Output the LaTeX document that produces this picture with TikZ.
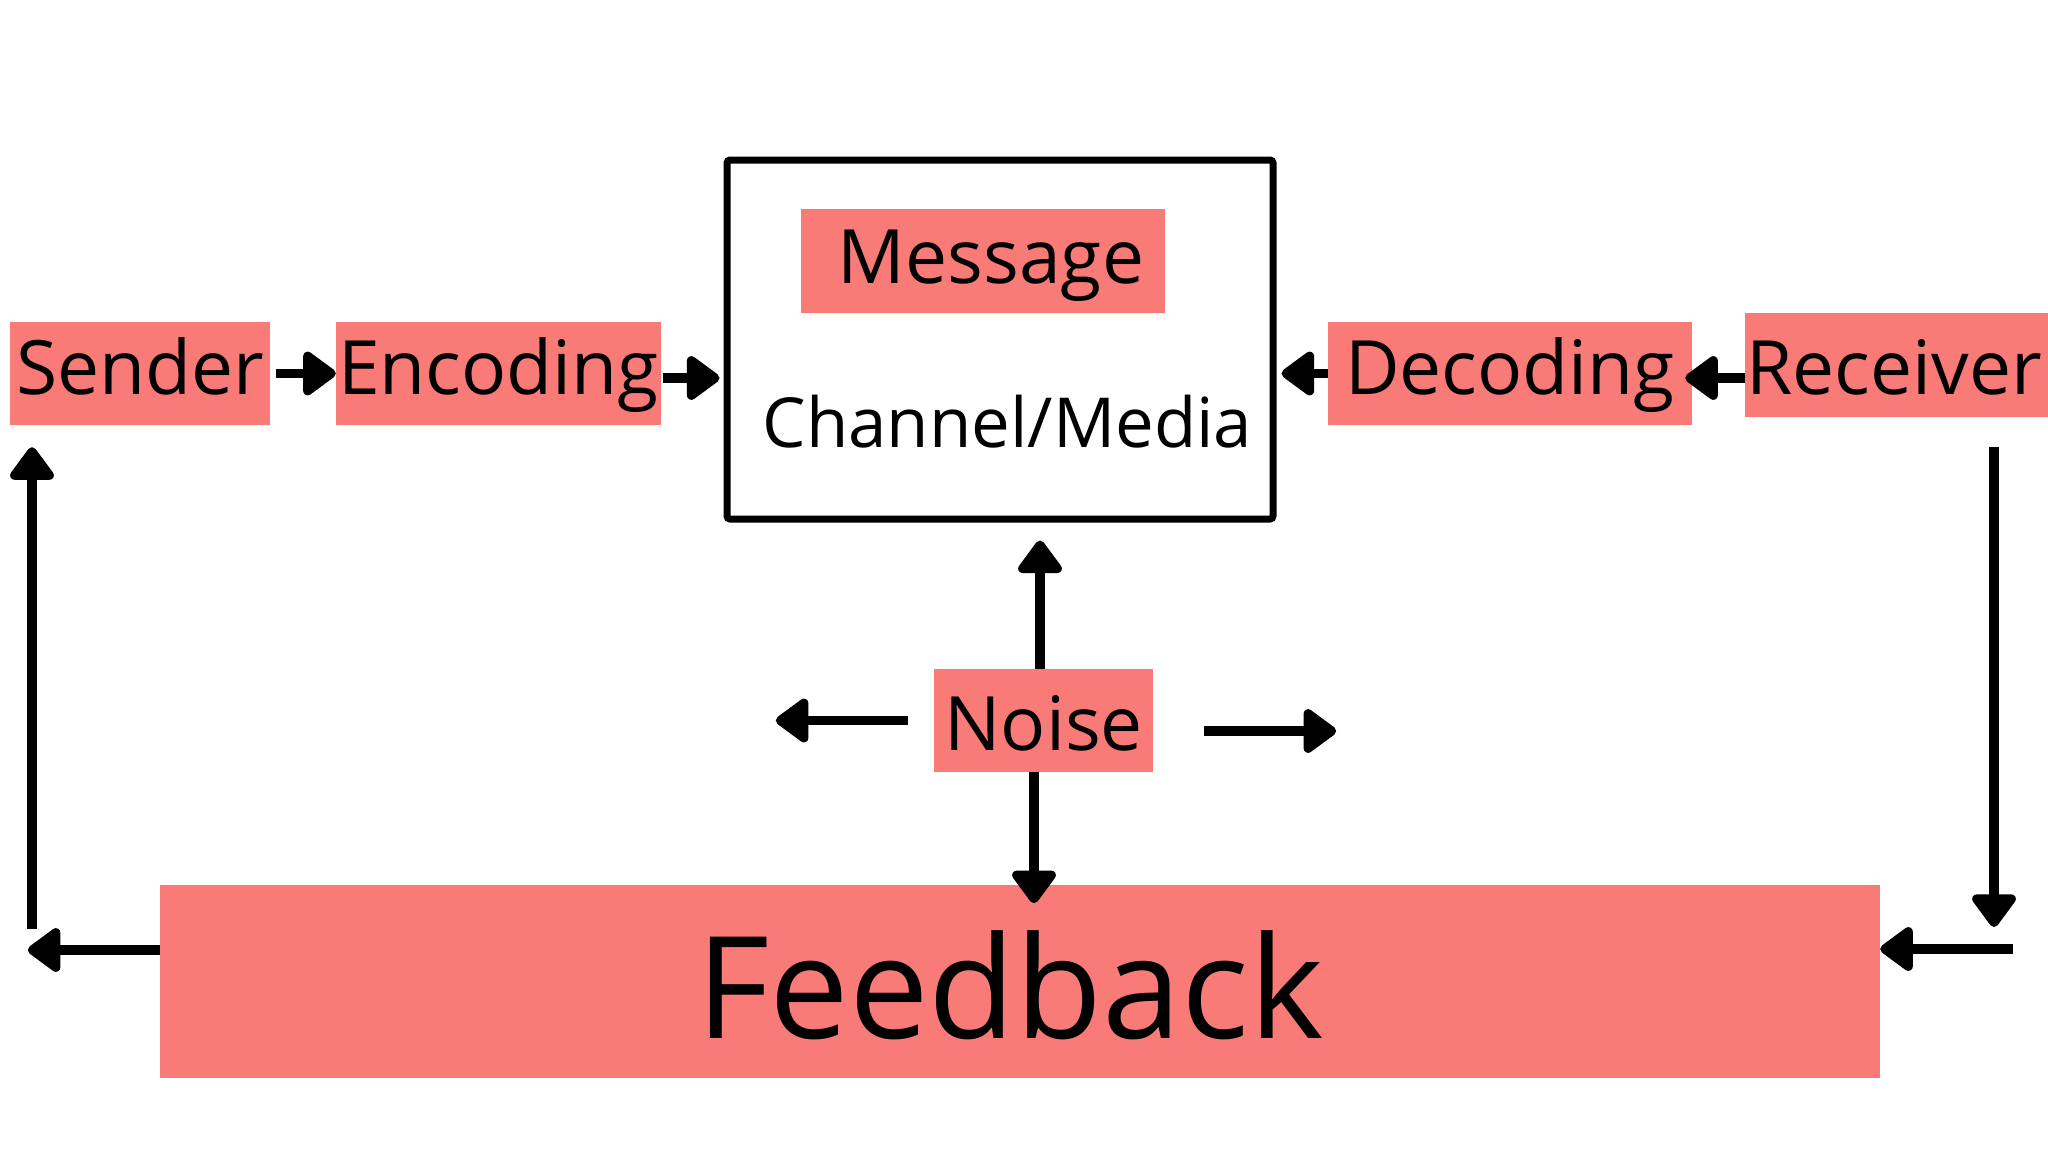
\documentclass[tikz,border=0pt]{standalone}
\usepackage{fontspec}
\setmainfont{Open Sans}
\usetikzlibrary{arrows.meta}
\definecolor{salmon}{RGB}{249,123,120}
\begin{document}
\begin{tikzpicture}[x=1pt,y=-1pt,
  lbl/.style={fill=salmon, inner sep=0pt, font=\fontsize{75}{90}\selectfont},
  arr/.style={line width=9.5pt, -{Triangle[length=36pt,width=50pt,line join=round,line cap=round,fill=black]}},
  chan/.style={draw, line width=7pt, rounded corners=3pt, inner sep=0pt}]
\useasboundingbox (0,0) rectangle (2048,1152);
\fill[white] (0,0) rectangle (2048,1152);
% boxes
\node[lbl, minimum width=260pt, minimum height=103pt, text height=72pt, text depth=31pt] (sender) at (140,373.5) {Sender};
\node[lbl, minimum width=325pt, minimum height=103pt, text height=72pt, text depth=31pt] (encoding) at (498.5,373.5) {Encoding};
\node[chan, minimum width=546pt, minimum height=359pt] (channel) at (1000,339.5) {};
\node[lbl, minimum width=364pt, minimum height=104pt, text height=74pt, text depth=30pt] (message) at (983,261) {\hspace*{16pt}Message};
\node[anchor=base, inner sep=0pt, font=\fontsize{69}{80}\selectfont] (media) at (1007.5,447) {Channel/Media};
\node[lbl, minimum width=364pt, minimum height=103pt, text height=72pt, text depth=31pt] (decoding) at (1510,373.5) {Decoding};
\node[lbl, minimum width=306pt, minimum height=104pt, text height=81pt, text depth=23pt] (receiver) at (1898,365) {\hspace*{-8pt}Receiver};
\node[lbl, minimum width=219pt, minimum height=103pt, text height=81pt, text depth=22pt] (noise) at (1043.5,720.5) {Noise};
\node[lbl, minimum width=1720pt, minimum height=193pt, text height=153pt, text depth=40pt, font=\fontsize{142}{160}\selectfont] (feedback) at (1020,981.5) {Feedback\hspace*{20pt}};
% free ends
\coordinate (fbL) at (32,929);
\coordinate (rcvD) at (1994,447);
% connectors
\draw[arr] ([xshift=6pt]sender.east) -- (encoding.west);
\draw[arr] ([xshift=2pt,yshift=-4.5pt]encoding.east) -- ([xshift=-4pt,yshift=-4.5pt]channel.west |- encoding.east);
\draw[arr] (decoding.west) -- ([xshift=5pt]channel.east |- decoding.west);
\draw[arr] ([yshift=-13pt]receiver.west) -- ([xshift=-7pt,yshift=-4.5pt]decoding.east);
\draw[arr, shorten >=18pt] ([xshift=-3.5pt]noise.north) -- ([xshift=-3.5pt]noise.north |- channel.south);
\draw[arr] ([xshift=-9.5pt]noise.south) -- ++(0,131);
\draw[arr] ([xshift=-26pt]noise.west) -- ++(-132,0);
\draw[arr] ([xshift=51pt,yshift=-10.5pt]noise.east) -- ++(132,0);
\draw[arr] ([yshift=31.5pt]feedback.west) -- ++(-132,0);
\draw[arr] (fbL) -- ([yshift=-22pt]fbL |- sender.south);
\draw[arr] (rcvD) -- ++(0,480);
\draw[arr] ([xshift=133pt,yshift=32.5pt]feedback.east) -- ([yshift=32.5pt]feedback.east);
\end{tikzpicture}
\end{document}
